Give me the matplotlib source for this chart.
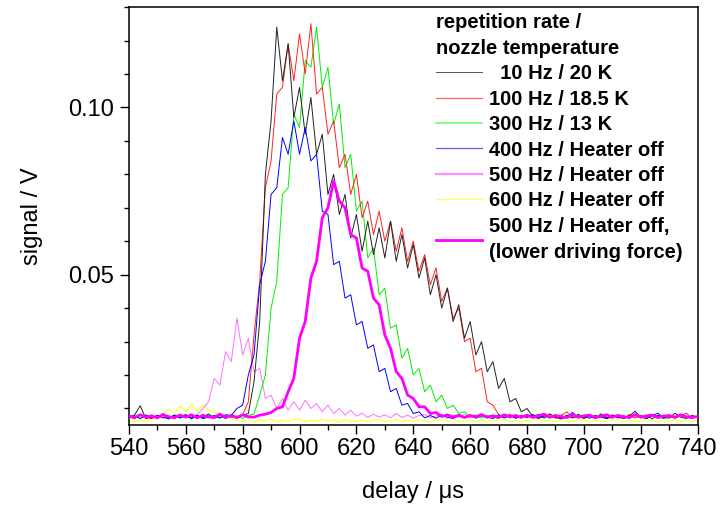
import numpy as np
import matplotlib.pyplot as plt
from matplotlib.ticker import MultipleLocator

plt.rcParams['font.family'] = ['Liberation Sans', 'DejaVu Sans']

# delay grid (µs), one sample every 2 µs from 540 to 740
delay = np.arange(540, 741, 2)

# signals in mV (noise included by eye)
sig_10hz = [7.2, 8.1, 10.8, 6.9, 7.8, 7.1, 8.3, 7.0, 7.9, 7.3, 8.2, 6.9, 7.8, 7.2, 8.4, 7.1, 7.9, 7.0, 8.2, 7.4,
            7.9, 8.5, 18, 36, 80, 96, 124, 108, 119, 97, 106, 92, 103, 86, 92, 74, 80, 68, 74, 61,
            68, 57, 66, 56, 64, 55, 66, 54, 62, 52, 59, 49, 55, 44, 50, 40, 46, 36, 41, 31,
            36, 26, 30, 21, 24, 16, 19, 12, 13, 9.0, 10, 7.6, 8.2, 7.1, 8.4, 7.3, 6.9, 8.0, 7.2, 8.3,
            7.1, 7.9, 7.0, 8.4, 7.3, 7.2, 8.1, 7.0, 7.8, 9.2, 7.2, 7.9, 6.9, 8.0, 7.3, 7.1, 8.6, 7.4, 7.0, 7.9,
            7.4]
sig_100hz = [7.5, 6.9, 8.1, 7.2, 7.0, 8.0, 7.1, 7.8, 6.9, 8.3, 7.2, 7.9, 7.0, 8.2, 7.4, 7.1, 8.0, 7.2, 7.8, 7.0,
             8.1, 12, 32, 48, 76, 84, 104, 106, 119, 108, 122, 110, 125, 104, 106, 92, 96, 82, 86, 74,
             80, 67, 72, 62, 69, 60, 66, 57, 64, 54, 60, 51, 56, 47, 52, 42, 46, 37, 40, 30,
             31, 21, 22, 12, 11, 8.2, 7.4, 8.3, 7.1, 7.9, 7.2, 8.2, 7.0, 7.8, 8.1, 7.1, 7.9, 9.0, 7.2, 7.6,
             7.0, 8.1, 7.2, 7.8, 6.9, 8.0, 7.4, 7.1, 8.2, 7.2, 7.9, 7.0, 8.1, 7.4, 7.2, 8.0, 7.1, 7.8, 8.6, 7.2,
             7.6]
sig_300hz = [7.1, 7.9, 7.0, 8.1, 7.4, 7.2, 8.0, 6.9, 7.8, 7.1, 8.2, 7.2, 7.8, 7.0, 8.0, 7.4, 7.1, 8.1, 7.2, 7.8,
             7.0, 8.0, 8.3, 14, 20, 40, 48, 74, 76, 98, 94, 114, 112, 124, 106, 112, 95, 101, 82, 86,
             69, 72, 55, 58, 44, 46, 34, 35, 25, 28, 20, 22, 15, 17, 12, 14, 10, 11, 8.5, 9.0,
             7.6, 8.1, 7.1, 7.9, 7.4, 7.0, 8.0, 7.2, 7.8, 7.1, 8.2, 7.4, 7.0, 7.9, 7.2, 8.1, 7.1, 7.8, 7.4, 8.0,
             7.0, 7.8, 7.2, 8.1, 7.1, 7.4, 7.9, 7.0, 8.0, 7.2, 7.8, 7.1, 8.1, 7.4, 7.0, 7.9, 7.2, 8.3, 7.1, 7.8,
             7.3]
sig_400hz = [7.3, 7.8, 7.0, 8.0, 7.1, 7.9, 7.4, 6.9, 8.1, 7.2, 7.8, 7.1, 8.0, 7.0, 7.4, 7.9, 7.2, 8.1, 7.9, 10,
             11, 20, 26, 47, 54, 74, 76, 91, 86, 96, 86, 94, 84, 86, 69, 68, 53, 54, 43, 44,
             35, 36, 28, 29, 21, 22, 15, 16, 11, 11.5, 8.5, 9.0, 7.2, 7.9, 7.1, 8.1, 7.4, 7.0, 7.8, 7.2,
             8.0, 7.1, 7.8, 7.4, 7.0, 8.1, 7.2, 7.9, 7.1, 7.8, 7.4, 8.2, 7.1, 7.8, 7.2, 8.0, 7.0, 7.4, 8.8, 7.2,
             7.8, 7.1, 7.9, 7.4, 7.0, 8.0, 7.2, 7.8, 7.1, 8.1, 7.4, 7.0, 7.9, 8.6, 7.1, 7.8, 7.2, 8.0, 7.4, 7.1,
             7.6]
sig_500hz = [7.6, 7.1, 8.0, 7.2, 7.5, 7.0, 8.1, 7.2, 7.9, 7.1, 7.8, 7.4, 8.2, 10, 12, 19, 17, 27, 24, 37,
             26, 31, 21, 22, 13, 14, 10, 13, 9.5, 12, 9.5, 12.5, 10, 11.5, 9.0, 11, 8.5, 10, 8.0, 9.5,
             7.7, 8.6, 7.3, 8.3, 7.4, 8.1, 7.2, 8.5, 7.3, 8.0, 7.1, 7.9, 8.2, 7.2, 7.8, 8.1, 7.1, 7.9, 7.4, 8.3,
             7.2, 7.8, 8.0, 7.1, 8.1, 7.4, 7.2, 7.9, 7.8, 7.1, 8.2, 7.4, 7.0, 8.0, 7.2, 7.8, 8.1, 7.1, 7.9, 7.4,
             7.2, 8.0, 7.1, 7.8, 7.4, 8.1, 7.2, 7.0, 7.9, 7.4, 8.0, 7.2, 7.8, 7.1, 8.1, 7.4, 7.2, 7.9, 7.8, 7.1,
             7.5]
sig_600hz = [6.4, 6.0, 6.7, 6.2, 6.9, 7.0, 8.5, 9.8, 8.6, 10.8, 9.0, 11.2, 9.3, 11.0, 9.6, 9.0, 8.0, 7.5, 6.9, 6.5,
             6.1, 6.7, 6.0, 6.5, 6.2, 6.8, 5.9, 6.6, 6.1, 6.7, 6.9, 6.0, 6.5, 6.2, 6.8, 6.1, 6.6, 5.9, 6.7, 6.2,
             6.1, 6.6, 6.0, 6.5, 6.7, 6.1, 6.2, 6.8, 6.0, 6.5, 6.1, 6.6, 6.2, 5.9, 6.7, 6.5, 6.1, 6.6, 6.0, 6.2,
             6.7, 6.1, 6.5, 6.0, 6.6, 6.2, 6.8, 6.1, 6.5, 5.9, 6.6, 6.2, 6.7, 6.1, 6.5, 6.0, 6.6, 6.2, 6.1, 6.7,
             6.5, 6.0, 6.6, 6.2, 6.1, 6.7, 6.5, 5.9, 6.6, 6.2, 6.1, 6.8, 6.5, 6.0, 6.6, 6.2, 6.7, 6.1, 6.5, 6.2,
             6.5]
sig_500hz_low = [7.8, 7.3, 8.1, 7.4, 7.8, 7.2, 8.2, 7.5, 7.3, 8.0, 7.4, 8.1, 7.2, 7.9, 7.5, 7.3, 8.3, 7.4, 7.8, 7.3,
                 8.1, 7.5, 7.4, 8.0, 8.3, 8.8, 10, 10.5, 15, 19, 31, 36, 49, 54, 67, 70, 78, 72, 70, 62,
                 61, 52, 51, 43, 41, 32, 28, 21, 19, 14, 13, 10.5, 10.5, 8.5, 8.8, 7.6, 8.1, 7.4, 8.0, 7.3,
                 7.9, 7.5, 8.2, 7.4, 7.8, 7.3, 8.1, 7.5, 7.9, 7.4, 8.0, 7.3, 7.8, 8.3, 7.4, 7.9, 7.5, 7.3, 8.1, 7.4,
                 7.8, 8.0, 7.3, 7.7, 8.1, 7.4, 7.9, 7.5, 7.3, 8.2, 7.4, 7.8, 8.0, 7.3, 7.7, 7.9, 7.4, 8.1, 7.5, 7.3,
                 7.6]

labels = ['  10 Hz / 20 K', '100 Hz / 18.5 K', '300 Hz / 13 K', '400 Hz / Heater off',
          '500 Hz / Heater off', '600 Hz / Heater off', '500 Hz / Heater off,\n(lower driving force)']

fig = plt.figure(figsize=(7.2, 5.05), dpi=100)
ax = fig.add_axes([0.179, 0.158, 0.79, 0.828])

mv = 1000.0
ax.plot(delay, np.array(sig_600hz) / mv, color='#ffff00', lw=0.7, zorder=2)
ax.plot(delay, np.array(sig_500hz) / mv, color='#ff70ff', lw=0.7, zorder=2)
ax.plot(delay, np.array(sig_300hz) / mv, color='#00f000', lw=0.7, zorder=3)
ax.plot(delay, np.array(sig_100hz) / mv, color='#ff2020', lw=0.7, zorder=3)
ax.plot(delay, np.array(sig_10hz) / mv, color='#222222', lw=0.7, zorder=4)
ax.plot(delay, np.array(sig_400hz) / mv, color='#0000ff', lw=0.7, zorder=4)
ax.plot(delay, np.array(sig_500hz_low) / mv, color='#ff00ff', lw=2.0, zorder=5)

# legend handles in the reference order
h = []
for c, w in [('#555555', 0.7), ('#ff6060', 0.9), ('#70ff70', 1.2), ('#6060ff', 0.9),
             ('#ff90ff', 1.6), ('#ffff60', 0.9), ('#ff00ff', 2.0)]:
    h.append(plt.Line2D([], [], color=c, lw=w))
leg = ax.legend(h, labels, title='repetition rate /\nnozzle temperature', loc='upper left',
                bbox_to_anchor=(436 / 720, 1 - 13 / 505), bbox_transform=fig.transFigure,
                frameon=False, prop={'weight': 'bold', 'size': 14.5},
                title_fontproperties={'weight': 'bold', 'size': 14.5}, alignment='left',
                handlelength=2.3, handletextpad=0.35, labelspacing=0.32, borderpad=0, borderaxespad=0)
leg.get_title().set_linespacing(1.45)
for t in leg.get_texts():
    t.set_linespacing(1.45)

ax.set_xlim(540, 740)
ax.set_ylim(0.005, 0.13)
ax.xaxis.set_major_locator(MultipleLocator(20))
ax.xaxis.set_minor_locator(MultipleLocator(10))
ax.yaxis.set_major_locator(MultipleLocator(0.05))
ax.yaxis.set_minor_locator(MultipleLocator(0.01))
ax.yaxis.set_major_formatter(plt.FormatStrFormatter('%.2f'))
ax.tick_params(which='major', length=6.5, width=1, labelsize=17, pad=3)
ax.tick_params(which='minor', length=3.6, width=1)
ax.tick_params(axis='y', which='major', pad=4)
for s in ax.spines.values():
    s.set_linewidth(1.1)
ax.set_xlabel('delay / μs', fontsize=17, labelpad=15)
ax.set_ylabel('signal / V', fontsize=17, labelpad=18)

fig.savefig('out.png', dpi=100)
